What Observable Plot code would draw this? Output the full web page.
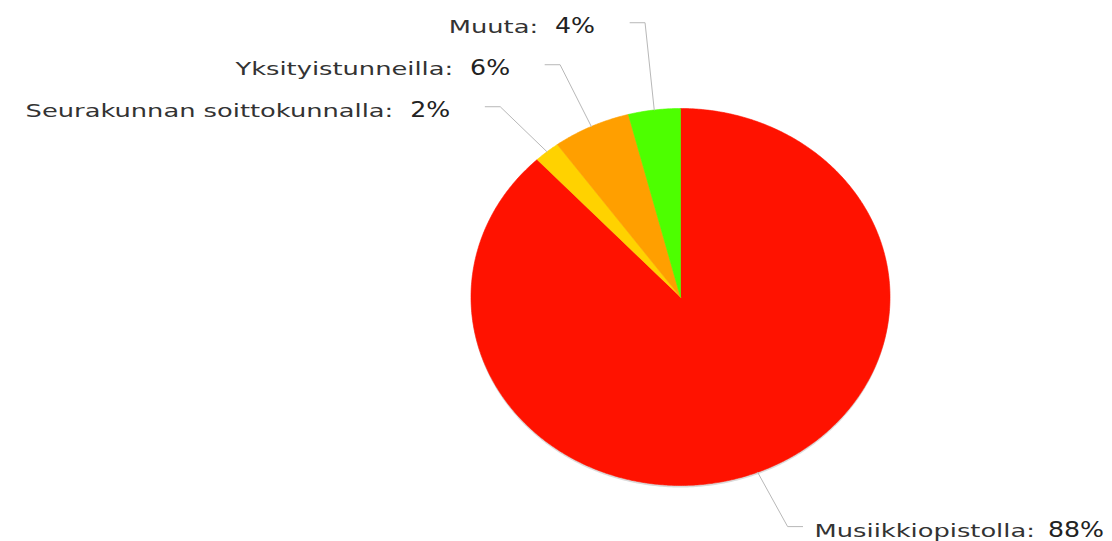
<!DOCTYPE html>
<html><head><meta charset="utf-8">
<script src="https://cdn.jsdelivr.net/npm/d3@7"></script>
<script src="https://cdn.jsdelivr.net/npm/@observablehq/plot@0.6"></script>
<style>body{margin:0;background:#fff;} #chart svg{display:block}</style>
</head><body><div id="chart"></div>
<script>
// ---- data ----
const categories = ["Musiikkiopistolla", "Seurakunnan soittokunnalla", "Yksityistunneilla", "Muuta"];
const values = [88, 2, 6, 4];
const colors = ["#ff1200", "#ffd200", "#ff9f00", "#4dff00"];

// ---- layout ----
const W = 1112, H = 541;
const CX = 680, CY = 296.5, RX = 209.5, RY = 188.5;
const FAMILY = "DejaVu Sans";
const NAME_FONT = 18, NAME_SX = 1.43, PCT_FONT = 21, PCT_SX = 1.2;
const ELBOW_RX = 1.35, ELBOW_RY = 1.31, MIN_GAP = 42, HLEN = 15;

const total = d3.sum(values);
const toU = px => (px - CX) / RX;
const toV = py => (CY - py) / RY;

let acc = 0;
const slices = categories.map((name, i) => {
  const a0 = acc / total * 2 * Math.PI; acc += values[i];
  const a1 = acc / total * 2 * Math.PI;
  return {name, value: values[i], a0, a1, mid: (a0 + a1) / 2};
});
const slicePts = [];
for (const s of slices) {
  slicePts.push({name: s.name, u: 0, v: 0});
  const n = Math.max(2, Math.ceil((s.a1 - s.a0) / (Math.PI / 360)));
  for (let k = 0; k <= n; k++) {
    const a = s.a0 + (s.a1 - s.a0) * k / n;
    slicePts.push({name: s.name, u: Math.sin(a), v: Math.cos(a)});
  }
  slicePts.push({name: s.name, u: 0, v: 0});
}
const shadowPts = d3.range(0, 721).map(k => ({u: Math.sin(k / 720 * 2 * Math.PI), v: Math.cos(k / 720 * 2 * Math.PI)}));

const ctx = document.createElement("canvas").getContext("2d");
function tw(text, size, sx) { ctx.font = `${size}px "${FAMILY}"`; return ctx.measureText(text).width * sx; }

const labels = slices.map(s => {
  const sin = Math.sin(s.mid), cos = Math.cos(s.mid);
  return {s, side: sin < 0 ? "left" : "right", sin, cos,
    edgeX: CX + RX * sin, edgeY: CY - RY * cos,
    ex: CX + RX * ELBOW_RX * sin + (sin < 0 ? 0 : 3), ey: CY - RY * ELBOW_RY * cos};
});
for (const side of ["left", "right"]) {
  const L = labels.filter(l => l.side === side).sort((a, b) => b.ey - a.ey);
  for (let i = 1; i < L.length; i++) if (L[i].ey > L[i - 1].ey - MIN_GAP) L[i].ey = L[i - 1].ey - MIN_GAP;
}
const leaderPts = [];
const nameLeft = [], nameRight = [], pctLabels = [];
for (const l of labels) {
  const name = l.s.name + ":", pct = l.s.value + "%";
  const lineEnd = l.side === "left" ? l.ex - HLEN : l.ex + HLEN;
  leaderPts.push({id: l.s.name, u: toU(l.edgeX), v: toV(l.edgeY)});
  leaderPts.push({id: l.s.name, u: toU(l.ex), v: toV(l.ey)});
  leaderPts.push({id: l.s.name, u: toU(lineEnd), v: toV(l.ey)});
  const base = toV(l.ey + 10.5);
  if (l.side === "left") {
    const pctEnd = lineEnd - 35;
    const pctStart = pctEnd - tw(pct, PCT_FONT, PCT_SX);
    nameLeft.push({t: name, u: toU(pctStart - 17), v: base});
    pctLabels.push({t: pct, u: toU(pctStart), v: base});
  } else {
    const nameStart = lineEnd + 12;
    nameRight.push({t: name, u: toU(nameStart), v: base});
    pctLabels.push({t: pct, u: toU(nameStart + tw(name, NAME_FONT, NAME_SX) + 13), v: base});
  }
}

const chart = Plot.plot({
  width: W, height: H, margin: 0,
  x: {domain: [toU(0), toU(W)], axis: null},
  y: {domain: [toV(H), toV(0)], axis: null},
  color: {domain: categories, range: colors},
  style: {fontFamily: FAMILY, background: "white", overflow: "visible"},
  marks: [
    Plot.line(shadowPts, {x: "u", y: "v", fill: "#000", fillOpacity: 0.14, stroke: "none", dy: 2}),
    Plot.line(slicePts, {x: "u", y: "v", z: "name", fill: "name", stroke: "name", strokeWidth: 0.6}),
    Plot.line(leaderPts, {x: "u", y: "v", z: "id", stroke: "#b8b8b8", strokeWidth: 1}),
    Plot.text(nameLeft, {x: "u", y: "v", text: "t", textAnchor: "end", lineAnchor: "bottom", fontSize: NAME_FONT, fill: "#333"}),
    Plot.text(nameRight, {x: "u", y: "v", text: "t", textAnchor: "start", lineAnchor: "bottom", fontSize: NAME_FONT, fill: "#333"}),
    Plot.text(pctLabels, {x: "u", y: "v", text: "t", textAnchor: "start", lineAnchor: "bottom", fontSize: PCT_FONT, fill: "#222"})
  ]
});
document.getElementById("chart").appendChild(chart);

// horizontally stretch label glyphs about their anchor points
chart.querySelectorAll("text").forEach(t => {
  const fs = parseFloat(getComputedStyle(t).fontSize);
  const sx = Math.abs(fs - NAME_FONT) < 0.5 ? NAME_SX : Math.abs(fs - PCT_FONT) < 0.5 ? PCT_SX : 1;
  if (sx === 1) return;
  let tr = t.getAttribute("transform");
  if (!tr) {
    const x = +t.getAttribute("x") || 0, y = +t.getAttribute("y") || 0;
    t.removeAttribute("x"); t.removeAttribute("y");
    tr = `translate(${x},${y})`;
  }
  t.setAttribute("transform", tr + ` scale(${sx},1)`);
});
</script>
</body></html>
